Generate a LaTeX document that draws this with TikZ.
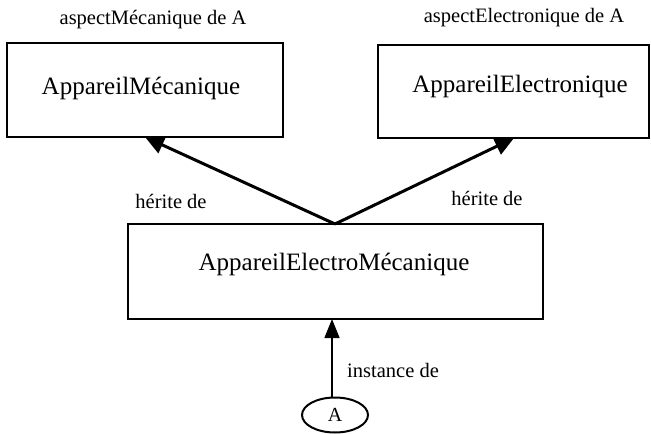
\documentclass[tikz,border=0pt]{standalone}
\usepackage{fontspec}
\setmainfont{Liberation Serif}
\usetikzlibrary{shapes.geometric,arrows.meta}
\begin{document}
\begin{tikzpicture}[x=1pt,y=-1pt,
  cls/.style={draw,line width=2pt,inner sep=0pt},
  big/.style={font=\fontsize{25}{30}\selectfont,inner sep=0pt},
  lbl/.style={font=\fontsize{20.5}{24}\selectfont,inner sep=0pt},
  inh/.style={line width=3pt,-{Triangle[length=19pt,width=18pt]}},
  inst/.style={line width=1.5pt,-{Triangle[length=19pt,width=15pt]}}]
\useasboundingbox (0,0) rectangle (651,434);
\node[cls,minimum width=276pt,minimum height=94pt] (mec) at (145,90) {};
\node[big] (mect) at (141,88) {AppareilMécanique};
\node[cls,minimum width=271pt,minimum height=93pt] (ele) at (513.5,91.5) {};
\node[big] (elet) at (520,86) {AppareilElectronique};
\node[cls,minimum width=415pt,minimum height=95pt] (em) at (335.5,271.5) {};
\node[big] (emt) at (334,264) {AppareilElectroMécanique};
\node[lbl] (lm) at (153,20) {aspectMécanique de A};
\node[lbl] (le) at (524,18) {aspectElectronique de A};
\node[draw,ellipse,line width=2pt,minimum width=66pt,minimum height=35pt,inner sep=0pt,font=\fontsize{20}{24}\selectfont] (a) at (335,415) {A};
\coordinate (j) at (335,224);
\coordinate (tm) at (145,137);
\coordinate (te) at (514,138);
\draw[inh] (j) -- (tm);
\draw[inh] (j) -- (te);
\node[lbl] (h1) at (171,201) {hérite de};
\node[lbl] (h2) at (487,198) {hérite de};
\coordinate (tb) at (332,319);
\draw[inst] (a.north -| tb) -- (tb);
\node[lbl,anchor=west] (i) at (347,370) {instance de};
\end{tikzpicture}
\end{document}
